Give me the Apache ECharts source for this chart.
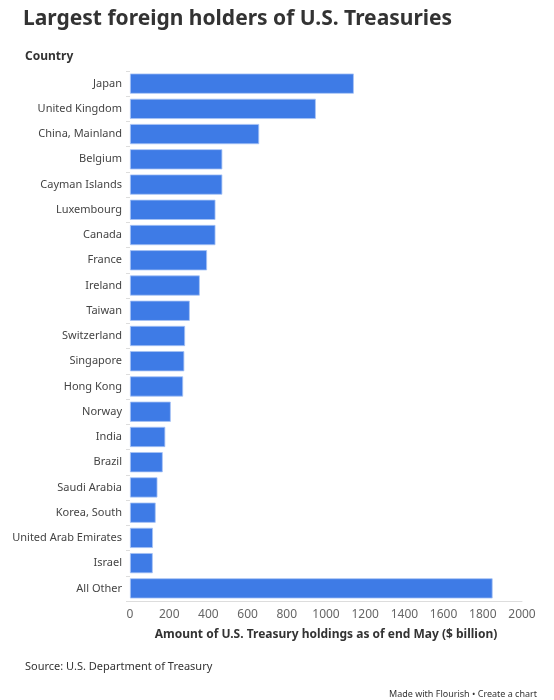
<!DOCTYPE html>
<html><head><meta charset="utf-8">
<script src="https://cdn.jsdelivr.net/npm/echarts@6/dist/echarts.min.js"></script>
<style>body{margin:0;background:#fff}#c{width:554px;height:700px}</style>
</head><body><div id="c"></div>
<script>
const countries=["Japan","United Kingdom","China, Mainland","Belgium","Cayman Islands","Luxembourg","Canada","France","Ireland","Taiwan","Switzerland","Singapore","Hong Kong","Norway","India","Brazil","Saudi Arabia","Korea, South","United Arab Emirates","Israel","All Other"];
const holdings=[1142,948,659,471,471,436,436,393,356,305,281,277,271,208,180,167,140,131,117,116,1850];
const xTicks=[0,200,400,600,800,1000,1200,1400,1600,1800,2000];
const F='"Source Sans Pro","Noto Sans",sans-serif';
const chart=echarts.init(document.getElementById('c'));
chart.setOption({
  animation:false,
  title:[
    {text:'Largest foreign holders of U.S. Treasuries',left:18,top:4,textStyle:{fontFamily:F,fontSize:21,fontWeight:'bold',color:'#333'}},
    {text:'Country',left:20,top:46,textStyle:{fontFamily:F,fontSize:12,fontWeight:'bold',color:'#333'}},
    {text:'Source: U.S. Department of Treasury',left:20,top:656,textStyle:{fontFamily:F,fontSize:11,fontWeight:'normal',color:'#333'}},
    {text:'Made with Flourish • Create a chart',right:12,top:685,textStyle:{fontFamily:F,fontSize:9,fontWeight:'normal',color:'#333'}}
  ],
  grid:{left:130,right:32,top:71,bottom:99,containLabel:false},
  xAxis:{type:'value',min:0,max:2000,interval:200,
    axisLabel:{color:'#666',fontFamily:F,fontSize:12,formatter:v=>xTicks.includes(v)?String(v):''},
    splitLine:{show:false},axisLine:{show:true,lineStyle:{color:'#ddd'}},axisTick:{show:false},
    name:'Amount of U.S. Treasury holdings as of end May ($ billion)',nameLocation:'middle',nameGap:28,
    nameTextStyle:{fontFamily:F,fontSize:12,fontWeight:'bold',color:'#333'}},
  yAxis:{type:'category',data:countries,inverse:true,
    axisLabel:{color:'#444',fontFamily:F,fontSize:11,margin:8},
    axisLine:{show:false},axisTick:{show:true,length:4,lineStyle:{color:'#ddd'}}},
  series:[{type:'bar',data:holdings,barCategoryGap:'20%',
    itemStyle:{color:'#3e7be6',borderColor:'#a7c3f5',borderWidth:0.8}}]
});
</script></body></html>
